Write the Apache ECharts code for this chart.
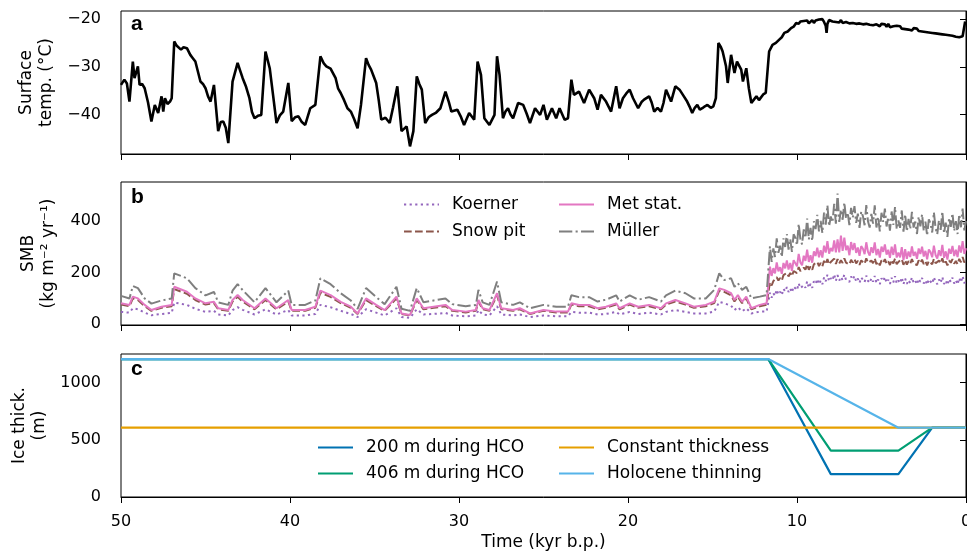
<!DOCTYPE html>
<html>
<head>
<meta charset="utf-8">
<script src="https://cdn.jsdelivr.net/npm/echarts@6/dist/echarts.min.js"></script>
<style>
  html, body { margin: 0; padding: 0; background: #fff; }
  #chart { width: 967px; height: 555px; }
</style>
</head>
<body>
<div id="chart"></div>
<script>
// a: surface temperature, [kyr b.p., degC]
var surfaceTemp = [
  [50.0,-33.8],[49.8,-32.7],[49.65,-33.5],[49.5,-37.3],[49.3,-28.9],[49.2,-32.4],[49.0,-29.9],[48.9,-33.8],[48.75,-33.6],[48.6,-34.5],
  [48.4,-37.5],[48.2,-41.5],[48.0,-38.0],[47.8,-39.7],[47.6,-36.2],[47.5,-39.4],[47.4,-36.6],[47.25,-37.8],[47.1,-37.3],[47.0,-36.6],
  [46.85,-24.7],[46.7,-25.6],[46.6,-25.7],[46.45,-26.4],[46.3,-25.9],[46.1,-26.1],[45.9,-27.5],[45.75,-28.2],[45.6,-28.9],[45.45,-31.0],
  [45.3,-33.1],[45.15,-33.6],[45.0,-34.5],[44.85,-36.2],[44.7,-37.3],[44.5,-33.8],[44.25,-43.5],[44.1,-41.6],[43.95,-41.5],[43.8,-42.8],
  [43.65,-46.0],[43.4,-33.1],[43.1,-29.2],[42.95,-30.8],[42.8,-32.4],[42.6,-34.2],[42.4,-36.6],[42.25,-39.5],[42.1,-40.8],[41.9,-40.3],
  [41.7,-40.1],[41.45,-26.8],[41.2,-30.3],[41.0,-36.0],[40.8,-41.8],[40.6,-40.2],[40.4,-39.4],[40.1,-33.4],[39.9,-41.4],[39.7,-40.6],
  [39.5,-40.4],[39.3,-41.6],[39.1,-42.2],[38.8,-38.7],[38.5,-38.0],[38.2,-27.8],[38.0,-29.3],[37.85,-29.9],[37.6,-30.4],[37.3,-32.4],
  [37.15,-34.6],[37.0,-35.5],[36.8,-37.0],[36.6,-38.7],[36.4,-39.4],[36.2,-41.0],[36.0,-42.9],[35.8,-38.0],[35.5,-28.2],[35.35,-29.6],
  [35.2,-30.6],[35.05,-32.0],[34.9,-33.4],[34.75,-37.0],[34.6,-41.1],[34.35,-40.7],[34.1,-41.8],[33.9,-38.5],[33.65,-34.1],[33.4,-43.5],
  [33.1,-42.5],[32.9,-46.7],[32.7,-43.5],[32.5,-32.0],[32.35,-33.6],[32.2,-34.8],[32.0,-41.8],[31.8,-40.6],[31.6,-40.1],[31.35,-39.6],
  [31.1,-38.7],[30.8,-35.2],[30.6,-37.4],[30.45,-39.4],[30.1,-39.0],[29.9,-40.4],[29.7,-42.2],[29.4,-39.7],[29.1,-41.1],[28.9,-28.9],
  [28.7,-31.7],[28.5,-40.8],[28.2,-42.2],[27.9,-40.1],[27.75,-27.8],[27.6,-31.7],[27.4,-40.8],[27.25,-39.4],[27.1,-38.7],[26.95,-40.0],
  [26.8,-40.8],[26.5,-37.6],[26.2,-38.0],[26.0,-39.8],[25.8,-41.8],[25.5,-38.7],[25.2,-40.1],[25.0,-38.0],[24.8,-41.1],[24.5,-38.7],
  [24.25,-40.8],[24.05,-38.7],[23.75,-41.1],[23.55,-40.8],[23.35,-32.7],[23.2,-35.9],[22.9,-35.2],[22.6,-37.6],[22.3,-34.8],[22.0,-36.6],
  [21.8,-39.0],[21.6,-35.9],[21.3,-37.3],[21.0,-39.4],[20.7,-34.1],[20.5,-38.7],[20.3,-36.6],[20.1,-35.6],[19.9,-34.8],[19.7,-36.6],
  [19.4,-38.7],[19.2,-37.4],[19.05,-36.9],[18.75,-36.2],[18.6,-37.5],[18.45,-39.4],[18.25,-38.6],[18.05,-39.4],[17.9,-37.6],[17.75,-34.8],
  [17.45,-37.3],[17.2,-34.1],[16.95,-34.8],[16.75,-35.9],[16.5,-37.3],[16.35,-38.4],[16.2,-39.7],[16.05,-38.6],[15.9,-38.0],[15.75,-39.0],
  [15.6,-38.7],[15.45,-38.3],[15.3,-38.0],[15.1,-38.6],[14.95,-38.3],[14.8,-36.6],[14.65,-25.0],[14.5,-25.9],[14.4,-26.8],[14.2,-29.9],
  [14.1,-33.4],[13.9,-27.5],[13.7,-31.3],[13.55,-28.9],[13.3,-30.6],[13.2,-33.1],[13.0,-30.3],[12.85,-34.5],[12.7,-37.6],[12.55,-36.9],
  [12.4,-36.2],[12.25,-37.0],[12.15,-36.6],[12.0,-35.8],[11.85,-35.5],[11.65,-26.8],[11.45,-25.4],[11.25,-25.0],[11.05,-24.3],[10.9,-23.8],
  [10.75,-22.9],[10.55,-22.6],[10.35,-21.9],[10.2,-21.6],[10.05,-20.8],
  [9.9,-21.0],[9.8,-20.5],[9.7,-20.9],[9.6,-20.4],[9.5,-20.8],[9.4,-20.3],[9.3,-20.9],[9.2,-20.5],[9.1,-20.2],[9.0,-20.8],
  [8.9,-20.3],[8.8,-20.6],[8.7,-20.1],[8.6,-20.5],[8.5,-20.0],[8.4,-20.6],[8.3,-21.4],[8.25,-22.9],[8.2,-21.0],[8.1,-20.2],
  [8.0,-19.9],[7.9,-20.5],[7.8,-20.1],[7.7,-20.6],[7.6,-20.3],[7.5,-20.7],[7.4,-20.2],[7.3,-20.8],[7.2,-20.4],[7.1,-20.6],
  [7.0,-20.3],[6.9,-20.9],[6.8,-20.5],[6.7,-20.8],[6.6,-20.4],[6.5,-21.0],[6.4,-20.6],[6.3,-20.9],[6.2,-20.5],[6.1,-21.1],
  [6.0,-20.7],[5.9,-21.0],[5.8,-20.6],[5.7,-21.2],[5.6,-20.8],[5.5,-21.3],[5.4,-20.9],[5.3,-21.1],[5.2,-20.8],[5.1,-21.5],
  [5.0,-21.0],[4.9,-21.4],[4.8,-21.1],[4.7,-21.6],[4.6,-21.0],[4.5,-21.7],[4.4,-21.3],[4.3,-21.5],[4.2,-21.9],[4.1,-21.4],
  [4.0,-21.8],[3.9,-21.5],[3.8,-22.0],[3.7,-21.6],[3.6,-22.1],[3.5,-21.7],[3.4,-22.2],[3.3,-21.8],[3.2,-22.4],[3.1,-21.9],
  [3.0,-22.3],[2.9,-22.0],[2.8,-22.5],[2.7,-22.1],[2.6,-22.6],[2.5,-22.2],[2.4,-22.7],[2.3,-22.3],[2.2,-22.8],[2.1,-22.4],
  [2.0,-22.9],[1.9,-22.5],[1.8,-23.0],[1.7,-22.6],[1.6,-23.1],[1.5,-22.7],[1.4,-23.2],[1.3,-22.8],[1.2,-23.3],[1.1,-22.9],
  [1.0,-23.4],[0.9,-23.0],[0.8,-23.5],[0.7,-23.1],[0.6,-23.7],[0.5,-23.3],[0.4,-23.8],[0.3,-24.2],[0.2,-23.6],[0.1,-23.9],
  [0.05,-20.5]
];

// b: surface mass balance (kg m-2 yr-1) on one shared time axis (kyr b.p.)
var smbKyr = [
  50.0, 49.5, 49.3, 49.0, 48.6, 48.2, 47.6, 47.0, 46.85, 46.1,
  45.6, 45.0, 44.5, 44.25, 43.65, 43.4, 43.1, 42.8, 42.1, 41.45,
  40.8, 40.1, 39.9, 39.1, 38.5, 38.2, 37.6, 37.0, 36.4, 36.0,
  35.5, 34.9, 34.4, 33.7, 33.4, 32.9, 32.5, 32.1, 31.5, 30.8,
  30.4, 29.6, 29.0, 28.85, 28.6, 28.2, 27.75, 27.5, 26.8, 26.4,
  25.8, 25.0, 24.25, 23.55, 23.35, 22.9, 22.3, 21.8, 21.3, 20.7,
  20.5, 19.9, 19.4, 18.75, 18.05, 17.75, 17.2, 16.6, 16.1, 15.4,
  14.9, 14.6, 14.3, 13.9, 13.7, 13.5, 13.25, 13.0, 12.7, 12.2,
  11.8,
  11.6, 11.5, 11.4, 11.3, 11.2, 11.1, 11.0, 10.9, 10.8, 10.7,
  10.6, 10.5, 10.4, 10.3, 10.2, 10.1, 10.0, 9.9, 9.8, 9.7,
  9.6, 9.5, 9.4, 9.3, 9.2, 9.1, 9.0, 8.9, 8.8, 8.7,
  8.6, 8.5, 8.4, 8.3, 8.2, 8.1, 8.0, 7.9, 7.8, 7.7,
  7.6, 7.5, 7.4, 7.3, 7.2, 7.1, 7.0, 6.9, 6.8, 6.7,
  6.6, 6.5, 6.4, 6.3, 6.2, 6.1, 6.0, 5.9, 5.8, 5.7,
  5.6, 5.5, 5.4, 5.3, 5.2, 5.1, 5.0, 4.9, 4.8, 4.7,
  4.6, 4.5, 4.4, 4.3, 4.2, 4.1, 4.0, 3.9, 3.8, 3.7,
  3.6, 3.5, 3.4, 3.3, 3.2, 3.1, 3.0, 2.9, 2.8, 2.7,
  2.6, 2.5, 2.4, 2.3, 2.2, 2.1, 2.0, 1.9, 1.8, 1.7,
  1.6, 1.5, 1.4, 1.3, 1.2, 1.1, 1.0, 0.9, 0.8, 0.7,
  0.6, 0.5, 0.4, 0.3, 0.2, 0.1, 0.0
];
var smbKoerner = [
  48, 45, 62, 58, 45, 35, 40, 44, 84, 75,
  60, 48, 52, 38, 34, 55, 66, 56, 38, 58,
  38, 55, 34, 34, 40, 75, 66, 52, 40, 28,
  58, 45, 34, 62, 28, 25, 58, 38, 40, 44,
  34, 31, 34, 55, 38, 34, 70, 38, 34, 38,
  28, 34, 31, 31, 48, 45, 45, 38, 40, 48,
  38, 48, 40, 45, 38, 48, 55, 48, 42, 42,
  49, 87, 81, 72, 55, 66, 50, 62, 42, 49,
  49,
  122, 103, 120, 110, 134, 116, 126, 113, 137, 127,
  144, 125, 138, 123, 146, 141, 132, 158, 140, 133,
  152, 141, 166, 141, 156, 141, 166, 157, 175, 155,
  169, 155, 181, 166, 192, 166, 178, 170, 193, 168,
  190, 169, 183, 171, 192, 172, 179, 164, 185, 173,
  187, 166, 177, 160, 181, 174, 163, 188, 168, 160,
  178, 165, 187, 160, 173, 155, 178, 167, 183, 161,
  172, 156, 180, 162, 186, 158, 169, 159, 181, 155,
  177, 156, 171, 159, 181, 161, 169, 154, 176, 164,
  179, 158, 170, 153, 174, 168, 157, 182, 163, 155,
  173, 160, 183, 156, 169, 152, 175, 164, 180, 158,
  170, 154, 179, 162, 186, 159, 170
];
var smbSnowPit = [
  76, 70, 100, 94, 70, 52, 64, 70, 136, 118,
  94, 76, 82, 58, 52, 88, 106, 88, 58, 94,
  58, 88, 52, 52, 64, 122, 106, 82, 64, 40,
  94, 70, 52, 100, 40, 34, 94, 58, 64, 70,
  52, 46, 52, 88, 58, 52, 112, 58, 52, 58,
  40, 52, 46, 46, 76, 70, 70, 58, 64, 76,
  58, 76, 64, 70, 58, 76, 88, 76, 64, 70,
  82, 130, 125, 112, 88, 106, 82, 100, 58, 70,
  76,
  163, 150, 167, 161, 182, 169, 179, 169, 190, 183,
  199, 185, 198, 186, 206, 205, 198, 221, 206, 202,
  219, 211, 232, 211, 224, 211, 232, 225, 241, 225,
  237, 224, 245, 232, 252, 231, 241, 235, 254, 233,
  252, 235, 248, 237, 255, 238, 244, 231, 249, 239,
  252, 235, 245, 230, 247, 243, 234, 255, 238, 232,
  246, 236, 255, 232, 243, 228, 247, 238, 252, 234,
  243, 229, 249, 235, 254, 232, 241, 234, 252, 230,
  248, 231, 244, 234, 252, 235, 242, 229, 247, 237,
  250, 233, 243, 228, 245, 241, 232, 253, 236, 230,
  246, 236, 255, 232, 243, 228, 247, 238, 252, 234,
  245, 232, 253, 240, 260, 239, 249
];
var smbMetStat = [
  81, 75, 107, 100, 75, 55, 68, 75, 145, 126,
  100, 81, 87, 62, 55, 94, 113, 94, 62, 100,
  62, 94, 55, 55, 68, 130, 113, 87, 68, 42,
  100, 75, 55, 107, 42, 36, 100, 62, 68, 75,
  55, 49, 55, 94, 62, 55, 120, 62, 55, 62,
  42, 55, 49, 49, 81, 75, 75, 62, 68, 81,
  62, 81, 68, 75, 62, 81, 94, 81, 68, 75,
  87, 139, 133, 120, 94, 113, 87, 107, 62, 75,
  81,
  223, 187, 217, 197, 239, 205, 221, 195, 237, 216,
  247, 212, 237, 207, 248, 241, 224, 272, 239, 228,
  265, 245, 289, 241, 267, 238, 282, 264, 296, 259,
  286, 258, 304, 277, 321, 273, 295, 282, 324, 278,
  328, 278, 343, 284, 335, 287, 304, 267, 318, 287,
  314, 276, 297, 265, 302, 292, 271, 317, 280, 266,
  298, 276, 317, 267, 291, 258, 300, 280, 309, 269,
  288, 257, 300, 268, 309, 258, 277, 259, 298, 248,
  290, 253, 281, 260, 301, 265, 280, 253, 293, 272,
  300, 262, 284, 251, 289, 279, 259, 304, 268, 254,
  286, 264, 307, 257, 282, 250, 292, 273, 303, 264,
  288, 260, 305, 277, 321, 272, 294
];
var smbMuller = [
  110, 100, 148, 140, 100, 80, 92, 100, 197, 178,
  140, 112, 125, 85, 75, 130, 155, 132, 85, 140,
  85, 130, 75, 75, 92, 178, 155, 120, 92, 60,
  140, 105, 78, 145, 60, 52, 140, 85, 92, 100,
  78, 70, 75, 133, 85, 75, 165, 85, 75, 85,
  62, 75, 68, 68, 112, 105, 105, 88, 95, 112,
  88, 112, 95, 105, 88, 112, 130, 120, 100, 100,
  133, 197, 171, 178, 145, 159, 133, 145, 100, 107,
  113,
  301, 241, 293, 260, 332, 276, 304, 260, 332, 299,
  349, 289, 330, 280, 348, 335, 305, 388, 329, 309,
  367, 334, 409, 328, 373, 322, 398, 368, 423, 359,
  400, 353, 432, 385, 460, 379, 417, 394, 466, 389,
  505, 396, 443, 404, 471, 409, 432, 383, 450, 412,
  457, 392, 428, 373, 436, 418, 383, 461, 398, 374,
  427, 389, 460, 374, 415, 359, 431, 396, 447, 378,
  414, 362, 436, 384, 454, 368, 401, 373, 440, 358,
  425, 359, 407, 368, 435, 374, 397, 349, 416, 379,
  425, 361, 397, 343, 406, 389, 355, 433, 371, 348,
  402, 365, 436, 352, 393, 338, 411, 377, 429, 361,
  399, 349, 425, 375, 447, 363, 399
];

// c: ice thickness scenarios (m), [kyr b.p., m]
var ice200 = [[50, 1206], [11.7, 1206], [8, 200], [4, 200], [2, 606], [0, 606]];
var ice406 = [[50, 1206], [11.7, 1206], [8, 406], [4, 406], [2, 606], [0, 606]];
var iceConstant = [[50, 606], [0, 606]];
var iceHolocene = [[50, 1206], [11.7, 1206], [4, 606], [0, 606]];

var tempTicks = [-40, -30, -20];
var smbTicks = [0, 200, 400];
var iceTicks = [0, 500, 1000];

var FONT = "'DejaVu Sans', sans-serif";
var minus = function (v) { return String(v).replace('-', '\u2212'); };

function zip(xs, ys) {
  return xs.map(function (x, i) { return [x, ys[i]]; });
}

function xAxisFor(gi, showLabels) {
  return {
    type: 'value', gridIndex: gi, min: 0, max: 50, interval: 10, inverse: true,
    axisLine: { show: true, onZero: false, lineStyle: { color: '#000', width: 1 } },
    axisTick: { show: true, length: 6, lineStyle: { color: '#000', width: 1 } },
    axisLabel: { show: showLabels, margin: 17, color: '#000', fontFamily: FONT, fontSize: 16 },
    splitLine: { show: false },
    name: showLabels ? 'Time (kyr b.p.)' : '',
    nameLocation: 'middle', nameGap: 37,
    nameTextStyle: { color: '#000', fontFamily: FONT, fontSize: 17 }
  };
}

function yAxisFor(gi, min, max, ticks, name, gap) {
  return {
    type: 'value', gridIndex: gi, min: min, max: max,
    axisLine: { show: true, lineStyle: { color: '#000', width: 1 } },
    axisTick: { show: true, length: 6, customValues: ticks, lineStyle: { color: '#000', width: 1 } },
    axisLabel: { customValues: ticks, margin: 20, color: '#000', fontFamily: FONT, fontSize: 16, formatter: minus },
    splitLine: { show: false },
    name: name, nameLocation: 'middle', nameGap: gap,
    nameTextStyle: { color: '#000', fontFamily: FONT, fontSize: 17, lineHeight: 20 }
  };
}

function line(name, data, xi, color, type, width) {
  return {
    name: name, type: 'line', xAxisIndex: xi, yAxisIndex: xi, data: data,
    symbol: 'none', showSymbol: false, clip: true,
    lineStyle: { color: color, width: width || 2, type: type || 'solid' },
    itemStyle: { color: color },
    emphasis: { disabled: true }
  };
}

function legendAt(names, left, top, gap) {
  return {
    data: names, orient: 'vertical', left: left, top: top, padding: 0,
    itemWidth: 35, itemHeight: 16, itemGap: gap, selectedMode: false,
    itemStyle: { opacity: 0 },
    textStyle: { color: '#000', fontFamily: FONT, fontSize: 17, lineHeight: 16, padding: [0, 0, 0, 8] }
  };
}

var chart = echarts.init(document.getElementById('chart'));

var grids = [
  { left: 121, right: 1, top: 11, height: 143 },
  { left: 121, right: 1, top: 182, height: 143 },
  { left: 121, right: 1, top: 354, height: 143 }
].map(function (g) {
  return Object.assign(g, { show: true, borderColor: '#000', borderWidth: 1, containLabel: false, outerBoundsMode: 'none' });
});

var option = {
  animation: false,
  backgroundColor: '#fff',
  grid: grids,
  xAxis: [xAxisFor(0, false), xAxisFor(1, false), xAxisFor(2, true)],
  yAxis: [
    yAxisFor(0, -48.3, -18.3, tempTicks, 'Surface\ntemp. (°C)', 62),
    yAxisFor(1, -2.7, 550, smbTicks, 'SMB\n(kg m\u207B\u00B2 yr\u207B\u00B9)', 62),
    yAxisFor(2, 0, 1250, iceTicks, 'Ice thick.\n(m)', 70)
  ],
  legend: [
    legendAt(['Koerner', 'Snow pit'], 403, 196, 10),
    legendAt(['Met stat.', 'Müller'], 558, 196, 10),
    legendAt(['200 m during HCO', '406 m during HCO'], 317, 439, 9),
    legendAt(['Constant thickness', 'Holocene thinning'], 558, 439, 9)
  ],
  graphic: [
    { type: 'text', left: 131, top: 14, style: { text: 'a', font: 'bold 21px "Liberation Sans", Arial, sans-serif', fill: '#000' } },
    { type: 'text', left: 131, top: 187, style: { text: 'b', font: 'bold 21px "Liberation Sans", Arial, sans-serif', fill: '#000' } },
    { type: 'text', left: 131, top: 359, style: { text: 'c', font: 'bold 21px "Liberation Sans", Arial, sans-serif', fill: '#000' } }
  ],
  series: [
    line('Surface temp.', surfaceTemp, 0, '#000', 'solid', 2.6),
    line('Koerner', zip(smbKyr, smbKoerner), 1, '#9467bd', [2.2, 3.4]),
    line('Snow pit', zip(smbKyr, smbSnowPit), 1, '#8c564b', [7.7, 3.3]),
    line('Met stat.', zip(smbKyr, smbMetStat), 1, '#e377c2'),
    line('Müller', zip(smbKyr, smbMuller), 1, '#7f7f7f', [13.3, 3.3, 2.1, 3.3]),
    line('200 m during HCO', ice200, 2, '#0072b2', 'solid', 2.2),
    line('406 m during HCO', ice406, 2, '#009e73', 'solid', 2.2),
    line('Constant thickness', iceConstant, 2, '#e69f00', 'solid', 2.2),
    line('Holocene thinning', iceHolocene, 2, '#56b4e9', 'solid', 2.2)
  ]
};

chart.setOption(option);
</script>
</body>
</html>
